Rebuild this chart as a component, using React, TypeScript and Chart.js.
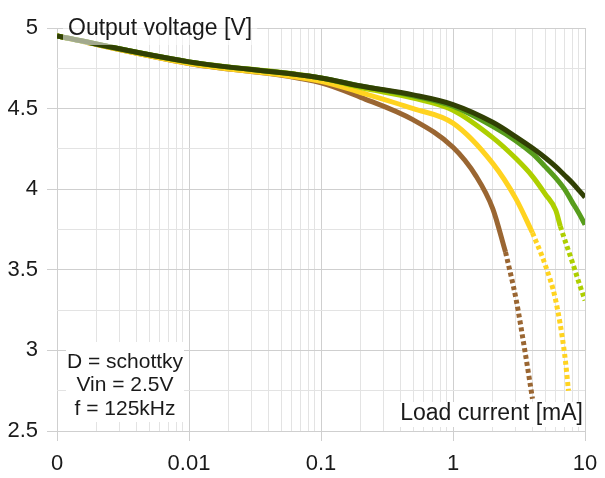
import React, { useEffect, useRef } from "react";
import { Chart, registerables } from "chart.js";

Chart.register(...registerables);

// ---- Data (load current in mA, output voltage in V) ----
const brownSolidI = [0.001, 0.01, 0.1, 0.2, 0.5, 1, 1.5, 2, 2.5];
const brownSolidV = [4.95, 4.78, 4.66, 4.57, 4.43, 4.26, 4.08, 3.88, 3.61];
const brownDotI = [2.5, 3, 3.5, 4];
const brownDotV = [3.61, 3.32, 3.0, 2.7];

const yellowSolidI = [0.001, 0.01, 0.1, 0.2, 0.5, 1, 2, 3, 4];
const yellowSolidV = [4.95, 4.78, 4.67, 4.6, 4.5, 4.41, 4.16, 3.94, 3.73];
const yellowDotI = [4, 5, 6, 7, 7.5];
const yellowDotV = [3.73, 3.53, 3.31, 2.98, 2.75];

const lightSolidI = [0.001, 0.01, 0.1, 0.2, 0.5, 1, 2, 3, 4, 5, 6, 6.5];
const lightSolidV = [4.95, 4.79, 4.69, 4.63, 4.565, 4.49, 4.32, 4.19, 4.08, 3.97, 3.87, 3.77];
const lightDotI = [6.5, 7, 8, 9, 10];
const lightDotV = [3.77, 3.69, 3.55, 3.42, 3.31];

const mediumI = [0.001, 0.01, 0.1, 0.2, 0.5, 1, 2, 3, 4, 5, 6, 7, 8, 9, 10];
const mediumV = [4.95, 4.79, 4.69, 4.64, 4.58, 4.515, 4.39, 4.3, 4.22, 4.14, 4.07, 4.0, 3.92, 3.85, 3.78];

const darkI = [0.001, 0.01, 0.1, 0.2, 0.5, 1, 2, 3, 4, 5, 6, 7, 8, 9, 10];
const darkV = [4.95, 4.79, 4.69, 4.64, 4.585, 4.525, 4.415, 4.325, 4.255, 4.195, 4.14, 4.087, 4.04, 3.993, 3.95];

const xTickValues: number[] = [];
for (let d = -3; d <= 0; d++) {
  for (let m = 1; m <= 9; m++) xTickValues.push(Number((m * Math.pow(10, d)).toPrecision(3)));
}
xTickValues.push(10);
const xMajorLabels: Record<string, string> = { "0.001": "0", "0.01": "0.01", "0.1": "0.1", "1": "1", "10": "10" };

const yTitle = "Output voltage [V]";
const xTitle = "Load current [mA]";
const noteLines = ["D = schottky", "Vin = 2.5V", "f = 125kHz"];

const COLORS = {
  brown: "#9a6632",
  yellow: "#ffd320",
  light: "#aecf00",
  medium: "#579d1c",
  dark: "#314004",
};

const FONT = "'Liberation Sans', Arial, sans-serif";

function isMajorX(v: number) {
  const l = Math.log10(v);
  return Math.abs(l - Math.round(l)) < 1e-6;
}
function isMajorY(v: number) {
  return Math.abs(v * 2 - Math.round(v * 2)) < 1e-6;
}

function ds(label: string, xs: number[], ys: number[], color: string, dashed: boolean, order: number) {
  return {
    label,
    data: xs.map((x, i) => ({ x, y: ys[i] })),
    borderColor: color,
    backgroundColor: color,
    borderWidth: 5,
    pointRadius: 0,
    pointHoverRadius: 0,
    borderDash: dashed ? [4, 3] : [],
    borderCapStyle: "butt" as const,
    borderJoinStyle: "round" as const,
    fill: false,
    cubicInterpolationMode: "monotone" as const,
    order,
  };
}

const labelPlugin = {
  id: "labels",
  afterDatasetsDraw(chart: any) {
    const { ctx, chartArea } = chart;
    const { left, top, right, bottom } = chartArea;
    ctx.save();
    // y title
    ctx.font = `23px ${FONT}`;
    ctx.textBaseline = "middle";
    ctx.textAlign = "left";
    const tw = ctx.measureText(yTitle).width;
    ctx.fillStyle = "rgba(255,255,255,0.55)";
    ctx.fillRect(left + 6, top - 14, tw + 10, 31);
    ctx.fillStyle = "#1a1a1a";
    ctx.fillText(yTitle, left + 11, top + 1);
    // x title
    const xw = ctx.measureText(xTitle).width;
    ctx.fillStyle = "#ffffff";
    ctx.fillRect(right - xw - 6, bottom - 29, xw + 5, 25);
    ctx.fillStyle = "#1a1a1a";
    ctx.textAlign = "right";
    ctx.fillText(xTitle, right - 2, bottom - 17);
    // note box
    ctx.font = `21px ${FONT}`;
    ctx.textAlign = "center";
    ctx.fillStyle = "#ffffff";
    ctx.fillRect(left + 9, bottom - 89, 118, 80);
    ctx.fillStyle = "#1a1a1a";
    noteLines.forEach((t, i) => ctx.fillText(t, left + 68, bottom - 69 + i * 23.5));
    ctx.restore();
  },
};

export default function App() {
  const ref = useRef<HTMLCanvasElement>(null);
  useEffect(() => {
    const chart = new Chart(ref.current as HTMLCanvasElement, {
      type: "line",
      data: {
        datasets: [
          ds("dark", darkI, darkV, COLORS.dark, false, 0),
          ds("medium", mediumI, mediumV, COLORS.medium, false, 1),
          ds("light", lightSolidI, lightSolidV, COLORS.light, false, 2),
          ds("light dotted", lightDotI, lightDotV, COLORS.light, true, 2),
          ds("yellow", yellowSolidI, yellowSolidV, COLORS.yellow, false, 3),
          ds("yellow dotted", yellowDotI, yellowDotV, COLORS.yellow, true, 3),
          ds("brown", brownSolidI, brownSolidV, COLORS.brown, false, 4),
          ds("brown dotted", brownDotI, brownDotV, COLORS.brown, true, 4),
        ] as any,
      },
      options: {
        animation: false,
        responsive: false,
        devicePixelRatio: 1,
        layout: { padding: { top: 28, right: 20, left: 0, bottom: 0 } },
        plugins: { legend: { display: false }, tooltip: { enabled: false } },
        events: [],
        scales: {
          x: {
            type: "logarithmic",
            min: 0.001,
            max: 10,
            afterBuildTicks: (s: any) => {
              s.ticks = xTickValues.map((v) => ({ value: v }));
            },
            afterFit: (s: any) => {
              s.height = 47;
              s.paddingLeft = 0;
              s.paddingRight = 0;
            },
            border: { display: false },
            grid: {
              color: (c: any) => (c.tick && isMajorX(c.tick.value) ? "#cfcfcf" : "#e3e3e3"),
              tickColor: (c: any) => (c.tick && isMajorX(c.tick.value) ? "#cfcfcf" : "rgba(0,0,0,0)"),
              tickLength: 10,
              lineWidth: 1,
            },
            ticks: {
              autoSkip: false,
              maxRotation: 0,
              minRotation: 0,
              padding: 10,
              color: "#1a1a1a",
              font: { family: FONT, size: 22 },
              callback: (v: any) => {
                const n = Number(v);
                if (!isMajorX(n)) return "";
                return xMajorLabels[String(Number(n.toPrecision(3)))] ?? "";
              },
            },
          },
          y: {
            type: "linear",
            min: 2.5,
            max: 5,
            afterFit: (s: any) => {
              s.width = 57;
              s.paddingTop = 0;
              s.paddingBottom = 0;
            },
            border: { display: false },
            grid: {
              color: (c: any) => (c.tick && isMajorY(c.tick.value) ? "#cfcfcf" : "#e3e3e3"),
              tickColor: (c: any) => (c.tick && isMajorY(c.tick.value) ? "#cfcfcf" : "rgba(0,0,0,0)"),
              tickLength: 10,
              lineWidth: 1,
            },
            ticks: {
              stepSize: 0.25,
              padding: 9,
              color: "#1a1a1a",
              font: { family: FONT, size: 22 },
              callback: (v: any) => (isMajorY(Number(v)) ? String(Number(v)) : ""),
            },
          },
        },
      },
      plugins: [labelPlugin],
    });
    return () => chart.destroy();
  }, []);
  return (
    <div style={{ position: "absolute", left: 0, top: 0, width: 605, height: 478, background: "#fff" }}>
      <canvas ref={ref} width={605} height={478} style={{ display: "block", width: 605, height: 478 }} />
    </div>
  );
}
